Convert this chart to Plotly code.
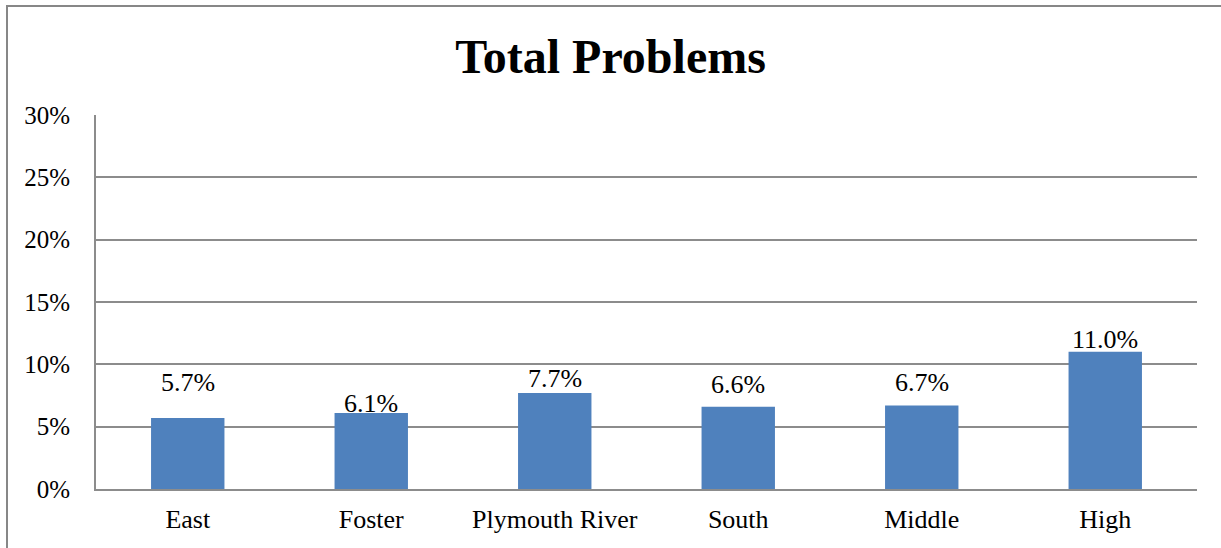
import plotly.graph_objects as go

# Share of students with total problems, by school
schools = ["East", "Foster", "Plymouth River", "South", "Middle", "High"]
rates = [5.7, 6.1, 7.7, 6.6, 6.7, 11.0]
rate_labels = ["5.7%", "6.1%", "7.7%", "6.6%", "6.7%", "11.0%"]
y_ticks = [0, 5, 10, 15, 20, 25, 30]
y_tick_text = ["0%", "5%", "10%", "15%", "20%", "25%", "30%"]

# vertical offset (px) of each value label above its bar
label_shift = [35, 9, 15, 22, 23, 12]

W, H = 1221, 548
L, R, T, B = 96, 24, 115, 59
FONT = "Liberation Serif, Times New Roman, serif"
GRID = "#8c8c8c"
BAR = "#4f81bd"

fig = go.Figure(
    go.Bar(
        x=schools,
        y=rates,
        marker=dict(color=BAR, line=dict(width=0)),
        hoverinfo="x+y",
    )
)

for s, v, t, dy in zip(schools, rates, rate_labels, label_shift):
    fig.add_annotation(
        x=s, y=v, text=t, showarrow=False,
        yanchor="middle", yshift=dy,
        font=dict(family=FONT, size=26, color="#000000"),
    )

# outer chart frame (left and top edges visible)
pw, ph = W - L - R, H - T - B
fig.add_shape(
    type="rect", xref="paper", yref="paper",
    x0=(7 - L) / pw, x1=(W + 20 - L) / pw,
    y0=(H - B - (H + 20)) / ph, y1=(H - B - 6) / ph,
    line=dict(color="#878787", width=2), fillcolor="rgba(0,0,0,0)",
    layer="below",
)

fig.update_layout(
    width=W, height=H,
    margin=dict(l=L, r=R, t=T, b=B),
    paper_bgcolor="white", plot_bgcolor="white",
    bargap=0.6,
    showlegend=False,
    title=dict(
        text="<b>Total Problems</b>",
        x=0.5, xref="container", xanchor="center",
        y=(H - 56) / H, yanchor="middle",
        font=dict(family=FONT, size=48, color="#000000"),
    ),
    font=dict(family=FONT, size=26, color="#000000"),
    xaxis=dict(
        showgrid=False, showline=True, linecolor=GRID, linewidth=2,
        ticks="", ticklabelstandoff=6,
        tickfont=dict(family=FONT, size=26, color="#000000"),
    ),
    yaxis=dict(
        range=[0, 30], tickvals=y_ticks, ticktext=y_tick_text,
        showgrid=True, gridcolor=GRID, gridwidth=2,
        showline=True, linecolor=GRID, linewidth=2,
        zeroline=False, ticks="", ticklabelstandoff=19,
        tickfont=dict(family=FONT, size=25, color="#000000"),
    ),
)

fig.write_html("out.html")
